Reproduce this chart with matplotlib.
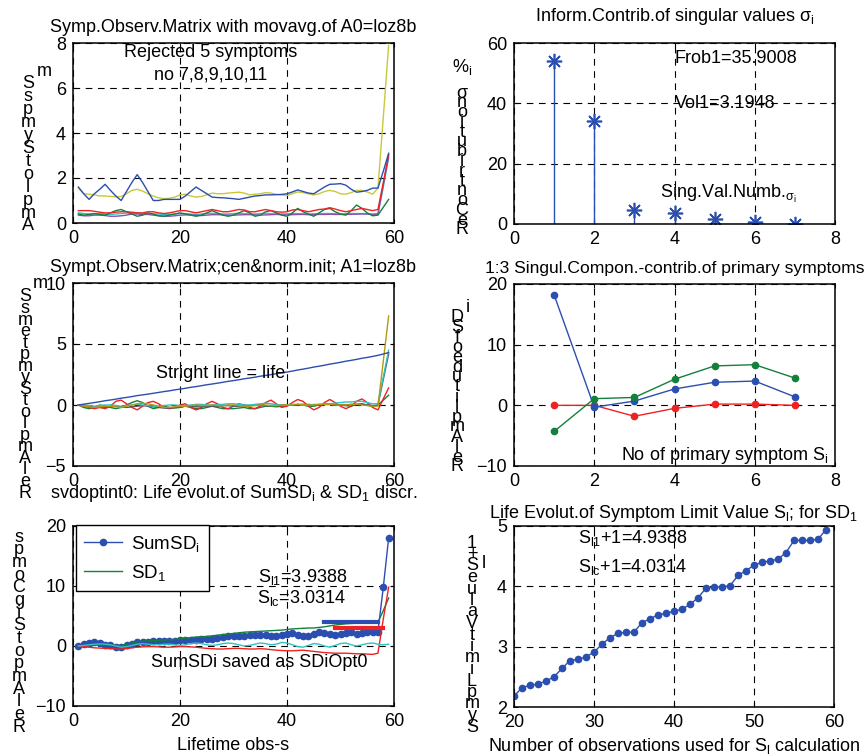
import numpy as np
import matplotlib
matplotlib.use("Agg")
import matplotlib.pyplot as plt

plt.rcParams['font.family'] = ['Liberation Sans', 'DejaVu Sans']
plt.rcParams['mathtext.fontset'] = 'custom'
plt.rcParams['mathtext.rm'] = 'Liberation Sans'
plt.rcParams['mathtext.it'] = 'Liberation Sans'
plt.rcParams['mathtext.default'] = 'regular'

W, H = 865, 756

# ---- symptom observation matrix (moving average), obs 1..59
obs = np.arange(1, 60)
sym_blue = [1.60, 1.30, 1.05, 1.30, 1.50, 1.72, 1.45, 1.20, 1.00, 1.40,
            1.80, 2.15, 1.80, 1.40, 1.00, 1.00, 1.05, 1.05, 1.05, 1.05,
            1.20, 1.40, 1.60, 1.45, 1.30, 1.15, 1.13, 1.12, 1.10, 1.08,
            1.05, 1.10, 1.15, 1.20, 1.22, 1.25, 1.25, 1.26, 1.27, 1.30,
            1.38, 1.47, 1.40, 1.33, 1.30, 1.45, 1.60, 1.72, 1.73, 1.75,
            1.68, 1.50, 1.37, 1.40, 1.45, 1.55, 1.55, 2.30, 3.10]
sym_yellow = [1.55, 1.30, 1.28, 1.25, 1.20, 1.20, 1.18, 1.17, 1.18, 1.30,
              1.45, 1.50, 1.42, 1.30, 1.20, 1.12, 1.08, 1.10, 1.15, 1.25,
              1.28, 1.20, 1.15, 1.18, 1.25, 1.33, 1.30, 1.30, 1.33, 1.35,
              1.37, 1.33, 1.25, 1.28, 1.30, 1.35, 1.33, 1.27, 1.25, 1.22,
              1.30, 1.38, 1.35, 1.30, 1.25, 1.30, 1.40, 1.45, 1.40, 1.30,
              1.28, 1.35, 1.45, 1.45, 1.38, 1.28, 1.55, 4.70, 7.90]
sym_red = [0.55, 0.55, 0.55, 0.52, 0.48, 0.45, 0.45, 0.48, 0.50, 0.50,
           0.48, 0.45, 0.45, 0.50, 0.50, 0.45, 0.42, 0.45, 0.50, 0.55,
           0.55, 0.50, 0.45, 0.50, 0.55, 0.60, 0.55, 0.50, 0.50, 0.55,
           0.60, 0.58, 0.50, 0.50, 0.55, 0.60, 0.55, 0.50, 0.48, 0.50,
           0.58, 0.60, 0.55, 0.50, 0.55, 0.60, 0.62, 0.68, 0.62, 0.55,
           0.50, 0.55, 0.60, 0.65, 0.60, 0.55, 0.60, 1.80, 3.00]
sym_green = [0.40, 0.35, 0.38, 0.42, 0.38, 0.35, 0.45, 0.55, 0.60, 0.50,
             0.40, 0.30, 0.35, 0.45, 0.40, 0.32, 0.30, 0.35, 0.40, 0.45,
             0.40, 0.35, 0.30, 0.35, 0.45, 0.55, 0.45, 0.35, 0.30, 0.35,
             0.45, 0.55, 0.45, 0.30, 0.35, 0.50, 0.55, 0.45, 0.35, 0.30,
             0.45, 0.65, 0.50, 0.40, 0.30, 0.45, 0.60, 0.65, 0.50, 0.40,
             0.35, 0.55, 0.80, 0.65, 0.45, 0.32, 0.35, 0.70, 1.05]
sym_purple = [0.35, 0.32, 0.32, 0.35, 0.35, 0.33, 0.30, 0.30, 0.32, 0.35,
              0.40, 0.40, 0.38, 0.38, 0.35, 0.32, 0.30, 0.30, 0.32, 0.35,
              0.36, 0.36, 0.34, 0.33, 0.35, 0.37, 0.37, 0.36, 0.35, 0.35,
              0.36, 0.37, 0.37, 0.36, 0.35, 0.36, 0.37, 0.38, 0.37, 0.36,
              0.37, 0.38, 0.38, 0.37, 0.37, 0.38, 0.38, 0.39, 0.38, 0.38,
              0.38, 0.39, 0.39, 0.40, 0.40, 0.39, 0.40, 1.70, 3.05]
sym_cyan = [0.45, 0.42, 0.40, 0.40, 0.42, 0.40, 0.38, 0.40, 0.42, 0.44,
            0.45, 0.44, 0.42, 0.40, 0.40, 0.40, 0.38, 0.38, 0.40, 0.42,
            0.42, 0.40, 0.38, 0.40, 0.42, 0.43, 0.42, 0.40, 0.40, 0.42,
            0.43, 0.42, 0.40, 0.40, 0.42, 0.43, 0.42, 0.40, 0.40, 0.41,
            0.42, 0.42, 0.41, 0.40, 0.41, 0.42, 0.42, 0.42, 0.41, 0.40,
            0.41, 0.42, 0.42, 0.42, 0.40, 0.38, 0.40, 1.60, 2.90]

# ---- centred & normalised matrix
cen_life = [0.00, 0.07, 0.13, 0.20, 0.27, 0.35, 0.41, 0.48, 0.56, 0.62,
            0.69, 0.77, 0.83, 0.89, 0.96, 1.03, 1.10, 1.16, 1.24, 1.30,
            1.37, 1.45, 1.51, 1.58, 1.66, 1.72, 1.79, 1.86, 1.94, 2.00,
            2.07, 2.15, 2.21, 2.28, 2.36, 2.42, 2.49, 2.57, 2.63, 2.70,
            2.78, 2.87, 2.94, 3.02, 3.11, 3.18, 3.26, 3.35, 3.42, 3.50,
            3.59, 3.66, 3.74, 3.83, 3.90, 3.98, 4.07, 4.18, 4.30]
cen_red = [0.00, -0.10, -0.20, -0.30, -0.20, -0.30, -0.10, 0.30, 0.40, 0.10,
           -0.20, -0.40, -0.10, 0.20, 0.30, 0.10, -0.20, -0.30, -0.20, 0.00,
           0.10, -0.20, -0.40, -0.20, 0.10, 0.30, 0.10, -0.20, -0.30, -0.10,
           0.10, 0.00, -0.20, -0.30, -0.10, 0.20, 0.40, 0.10, -0.20, -0.10,
           0.20, 0.45, 0.30, -0.10, -0.40, -0.20, 0.20, 0.45, 0.20, -0.10,
           -0.30, -0.10, 0.30, 0.50, 0.20, -0.20, -0.40, 0.50, 1.40]
cen_green = [0.00, -0.20, -0.30, -0.20, 0.00, -0.10, -0.20, -0.30, -0.20, 0.00,
             0.20, 0.35, 0.20, -0.10, -0.30, -0.20, -0.10, -0.20, -0.25, -0.20,
             -0.10, -0.20, -0.30, -0.30, -0.20, -0.10, -0.20, -0.30, -0.30, -0.30,
             -0.25, -0.20, -0.30, -0.30, -0.20, -0.10, -0.10, -0.15, -0.10, -0.05,
             0.00, 0.05, 0.00, -0.10, -0.10, 0.00, 0.05, 0.05, 0.00, 0.00,
             -0.05, -0.10, 0.05, 0.10, 0.00, -0.10, 0.00, 0.40, 0.80]
cen_cyan = [0.00, 0.00, -0.05, -0.10, -0.05, 0.00, 0.00, -0.05, -0.10, -0.05,
            0.00, 0.05, 0.00, -0.05, -0.10, -0.10, -0.05, 0.00, 0.00, -0.05,
            -0.05, 0.00, 0.05, 0.05, 0.00, 0.00, 0.05, 0.05, 0.10, 0.10,
            0.05, 0.00, 0.00, 0.05, 0.10, 0.15, 0.10, 0.05, 0.00, 0.00,
            0.05, 0.05, 0.00, 0.00, 0.05, 0.05, 0.10, 0.10, 0.15, 0.20,
            0.25, 0.25, 0.30, 0.30, 0.20, 0.10, 0.10, 2.30, 4.50]
cen_olive = [0.00, -0.10, -0.15, -0.20, -0.15, -0.10, -0.10, -0.15, -0.20, -0.10,
             0.00, 0.10, 0.15, 0.10, 0.00, -0.10, -0.20, -0.20, -0.15, -0.10,
             -0.10, -0.05, 0.00, -0.05, -0.05, 0.00, -0.05, -0.05, 0.00, 0.00,
             -0.05, -0.10, -0.10, -0.05, 0.00, 0.00, -0.05, -0.05, 0.00, 0.00,
             0.00, 0.05, 0.05, 0.00, 0.00, 0.05, 0.05, 0.05, 0.00, 0.00,
             0.00, 0.05, 0.05, 0.00, -0.05, -0.10, -0.10, 3.60, 7.30]
cen_gray = [0.00, -0.05, -0.10, -0.15, -0.20, -0.20, -0.15, -0.10, -0.15, -0.20,
            -0.15, -0.10, -0.05, -0.10, -0.15, -0.20, -0.25, -0.25, -0.20, -0.15,
            -0.10, -0.10, -0.15, -0.15, -0.10, -0.10, -0.10, -0.05, -0.05, -0.10,
            -0.10, -0.05, -0.05, 0.00, 0.00, -0.05, -0.05, 0.00, 0.00, 0.00,
            0.00, 0.00, 0.05, 0.05, 0.00, 0.00, 0.05, 0.05, 0.05, 0.00,
            0.00, 0.05, 0.05, 0.05, 0.00, -0.05, 0.00, 2.10, 4.20]

# ---- singular values contribution [%]
sv_num = [1, 2, 3, 4, 5, 6, 7]
sv_contrib = [54.0, 34.3, 4.8, 3.5, 1.7, 0.8, 0.0]
frob1 = 35.9008
vol1 = 3.1948

# ---- singular components vs primary symptoms
comp_blue = [18.2, -0.3, 0.7, 2.7, 3.8, 4.0, 1.4]
comp_green = [-4.3, 1.1, 1.3, 4.3, 6.5, 6.7, 4.5]
comp_red = [0.0, 0.0, -1.8, -0.5, 0.2, 0.2, 0.0]

# ---- SumSD_i and SD_1 life evolution
sumsd = [0.0, 0.3, 0.5, 0.6, 0.5, 0.2, 0.1, -0.1, -0.2, 0.1,
         0.4, 0.6, 0.7, 0.7, 0.8, 0.8, 0.8, 0.9, 0.9, 1.0,
         1.0, 1.0, 1.0, 1.1, 1.1, 1.2, 1.3, 1.5, 1.6, 1.6,
         1.7, 1.7, 1.8, 1.9, 1.9, 1.8, 1.7, 1.7, 1.9, 2.0,
         2.1, 1.9, 1.6, 1.6, 2.0, 2.3, 2.2, 2.0, 1.9, 2.0,
         2.1, 2.3, 2.0, 2.1, 2.4, 2.4, 2.4, 9.8, 18.0]
sd1 = [0.00, 0.05, 0.10, 0.15, 0.20, 0.20, 0.15, 0.10, 0.05, 0.30,
       0.50, 0.70, 0.80, 0.85, 0.90, 0.95, 1.00, 1.05, 1.10, 1.20,
       1.30, 1.40, 1.50, 1.55, 1.60, 1.70, 1.80, 1.90, 2.00, 2.10,
       2.20, 2.30, 2.35, 2.40, 2.45, 2.50, 2.55, 2.60, 2.65, 2.75,
       2.85, 2.90, 2.95, 3.00, 3.00, 3.10, 3.20, 3.35, 3.50, 3.60,
       3.70, 3.75, 3.80, 3.85, 3.90, 3.95, 4.00, 5.90, 8.00]
sd2 = [0.00, -0.10, -0.20, -0.30, -0.35, -0.40, -0.45, -0.50, -0.50, -0.45,
       -0.30, -0.20, -0.15, -0.10, -0.10, -0.15, -0.20, -0.20, -0.15, -0.10,
       -0.10, -0.15, -0.20, -0.30, -0.40, -0.45, -0.50, -0.50, -0.45, -0.40,
       -0.40, -0.45, -0.50, -0.50, -0.45, -0.50, -0.60, -0.70, -0.75, -0.80,
       -0.80, -0.75, -0.70, -0.80, -0.90, -1.00, -1.10, -1.15, -1.20, -1.20,
       -1.20, -1.25, -1.30, -1.30, -1.35, -1.40, -1.20, 4.50, 9.80]
sd3 = [0.00, 0.10, 0.20, 0.30, 0.35, 0.30, 0.20, 0.00, -0.20, -0.10,
       0.10, 0.30, 0.40, 0.30, 0.20, 0.20, 0.30, 0.30, 0.20, 0.10,
       0.20, 0.40, 0.50, 0.40, 0.20, 0.10, 0.20, 0.40, 0.50, 0.40,
       0.20, 0.00, 0.10, 0.30, 0.50, 0.40, 0.20, 0.30, 0.60, 0.50,
       0.20, -0.10, -0.20, 0.10, 0.40, 0.30, 0.00, -0.20, 0.10, 0.40,
       0.50, 0.20, 0.00, 0.20, 0.40, 0.50, 0.30, 0.20, 0.30]
s_l1 = 3.9388
s_lc = 3.0314

# ---- symptom limit value vs number of observations
n_obs = np.arange(20, 60)
s_limit = [2.18, 2.32, 2.36, 2.38, 2.43, 2.50, 2.64, 2.77, 2.79, 2.83,
           2.91, 3.04, 3.15, 3.22, 3.24, 3.24, 3.40, 3.46, 3.53, 3.55,
           3.59, 3.62, 3.70, 3.81, 3.97, 3.99, 3.99, 4.01, 4.18, 4.26,
           4.35, 4.40, 4.42, 4.45, 4.56, 4.76, 4.76, 4.76, 4.78, 4.94]

BLUE = '#2b4fb0'
GREEN = '#13803c'
RED = '#ee2222'
YELLOW = '#c9c83a'
CYAN = '#2cc4c4'
PURPLE = '#8a4fb0'
OLIVE = '#b59a10'
GRAY = '#555566'

fig = plt.figure(figsize=(W / 100, H / 100), dpi=100)


def make_ax(x0, y0, x1, y1):
    ax = fig.add_axes([x0 / W, 1 - y1 / H, (x1 - x0) / W, (y1 - y0) / H])
    ax.grid(True, color='black', linestyle=(0, (6, 5)), linewidth=0.8)
    ax.tick_params(direction='in', length=3, labelsize=13, pad=5,
                   top=True, right=True)
    for s in ax.spines.values():
        s.set_linewidth(1.1)
    return ax


def stacked(x, y0, y1, chars, size=13):
    n = len(chars)
    for k, c in enumerate(chars):
        y = y0 + (y1 - y0) * k / (n - 1)
        fig.text(x / W, 1 - y / H, c, ha='center', va='center', fontsize=size)


def put(x, y, s, size=13):
    fig.text(x / W, 1 - y / H, s, ha='center', va='center', fontsize=size)


# 1: symptom observation matrix
ax1 = make_ax(73, 43, 394, 223)
for ys, c in [(sym_cyan, CYAN), (sym_purple, PURPLE), (sym_green, GREEN),
              (sym_red, RED), (sym_yellow, YELLOW), (sym_blue, BLUE)]:
    ax1.plot(obs, ys, color=c, lw=1)
ax1.set_xlim(0, 60)
ax1.set_ylim(0, 8)
ax1.set_xticks([0, 20, 40, 60])
ax1.set_yticks([0, 2, 4, 6, 8])
ax1.set_title('Symp.Observ.Matrix with movavg.of A0=loz8b', fontsize=13, pad=8)
ax1.text(25.8, 7.6, 'Rejected 5 symptoms', ha='center', va='center', fontsize=13)
ax1.text(25.8, 6.6, 'no 7,8,9,10,11', ha='center', va='center', fontsize=13)
stacked(28, 84, 226, list('SspmyStolpmA'))
put(44, 72, 'm')

# 2: information contribution of singular values
ax2 = make_ax(514, 43, 835, 224)
ml, sl, bl = ax2.stem(sv_num, sv_contrib, basefmt=' ')
plt.setp(sl, color=BLUE, linewidth=1)
plt.setp(ml, color=BLUE, marker=(8, 2, 0), markersize=11, markeredgewidth=1.2)
ax2.set_xlim(0, 8)
ax2.set_ylim(0, 60)
ax2.set_xticks([0, 2, 4, 6, 8])
ax2.set_yticks([0, 20, 40, 60])
ax2.set_title('Inform.Contrib.of singular values $\\sigma_i$', fontsize=13, pad=16)
ax2.text(4.0, 54.7, 'Frob1=%.4f' % frob1, ha='left', va='center', fontsize=13)
ax2.text(4.0, 40.1, 'Vol1=%.4f' % vol1, ha='left', va='center', fontsize=13)
ax2.text(3.64, 9.9, 'Sing.Val.Numb.$_{\\sigma_i}$', ha='left', va='center', fontsize=13)
put(462, 67, '%$_i$')
stacked(462, 93, 230, list('σnoitubirtnoCeR'))

# 3: centred and normalised matrix
ax3 = make_ax(73, 283, 394, 466)
for ys, c in [(cen_green, GREEN), (cen_red, RED), (cen_gray, GRAY),
              (cen_cyan, CYAN), (cen_olive, OLIVE), (cen_life, BLUE)]:
    ax3.plot(obs, ys, color=c, lw=1)
ax3.set_xlim(0, 60)
ax3.set_ylim(-5, 10)
ax3.set_xticks([0, 20, 40, 60])
ax3.set_yticks([-5, 0, 5, 10])
ax3.set_title('Sympt.Observ.Matrix;cen&norm.init; A1=loz8b', fontsize=13, pad=8)
ax3.text(15.5, 2.6, 'Stright line = life', ha='left', va='center', fontsize=13)
stacked(25, 297, 493, list('SsmetpmyStolpmAleR'))
put(40, 283, 'm')

# 4: singular components of primary symptoms
ax4 = make_ax(514, 284, 835, 466)
for ys, c in [(comp_red, RED), (comp_blue, BLUE), (comp_green, GREEN)]:
    ax4.plot(sv_num, ys, color=c, lw=1, marker='o', markersize=4.5)
ax4.set_xlim(0, 8)
ax4.set_ylim(-10, 20)
ax4.set_xticks([0, 2, 4, 6, 8])
ax4.set_yticks([-10, 0, 10, 20])
ax4.set_title('1:3 Singul.Compon.-contrib.of primary symptoms', fontsize=12.6, pad=8)
ax4.text(2.67, -8.35, 'No of primary symptom S$_i$', ha='left', va='center', fontsize=13)
stacked(457, 317, 467, list('DSfoedutilpmAleR'))
put(468, 307, 'i')

# 5: life evolution of SumSD_i and SD_1
ax5 = make_ax(73, 526, 394, 706)
ax5.plot(obs, sumsd, color=BLUE, lw=1, marker='o', markersize=4.5, label='SumSD$_i$')
ax5.plot(obs, sd1, color=GREEN, lw=1, label='SD$_1$')
ax5.plot(obs, sd2, color=RED, lw=1)
ax5.plot(obs, sd3, color=CYAN, lw=1)
ax5.plot([47, 57], [s_l1, s_l1], color=BLUE, lw=3)
ax5.plot([49, 58], [s_lc, s_lc], color=RED, lw=3)
ax5.set_xlim(0, 60)
ax5.set_ylim(-10, 20)
ax5.set_xticks([0, 20, 40, 60])
ax5.set_yticks([-10, 0, 10, 20])
ax5.set_title('svdoptint0: Life evolut.of SumSD$_i$ & SD$_1$ discr.', fontsize=13, pad=20)
ax5.set_xlabel('Lifetime obs-s', fontsize=13, labelpad=5)
ax5.text(34.6, 11.5, 'S$_{l1}$=%.4f' % s_l1, ha='left', va='center', fontsize=13)
ax5.text(34.4, 8.0, 'S$_{lc}$=%.4f' % s_lc, ha='left', va='center', fontsize=13)
ax5.text(14.5, -2.7, 'SumSDi saved as SDiOpt0', ha='left', va='center', fontsize=13)
leg = ax5.legend(loc='upper left', bbox_to_anchor=(0.009, 1.005), borderaxespad=0,
                 fontsize=13.5, fancybox=False, framealpha=1, handlelength=2.0,
                 handletextpad=0.5, borderpad=0.45, labelspacing=0.5)
leg.get_frame().set_edgecolor('black')
leg.get_frame().set_linewidth(1.0)
stacked(19, 537, 727, list('spmoCgiStopmAleR'))

# 6: symptom limit value
ax6 = make_ax(514, 526, 834, 707)
ax6.plot(n_obs, s_limit, color=BLUE, lw=1, marker='o', markersize=4.5)
ax6.set_xlim(20, 60)
ax6.set_ylim(2, 5)
ax6.set_xticks([20, 30, 40, 50, 60])
ax6.set_yticks([2, 3, 4, 5])
ax6.set_title('Life Evolut.of Symptom Limit Value S$_l$; for SD$_1$', fontsize=13, pad=6)
ax6.set_xlabel('Number of observations used for S$_l$ calculation', fontsize=13, labelpad=4)
ax6.text(28, 4.8, 'S$_{l1}$+1=%.4f' % (s_l1 + 1), ha='left', va='center', fontsize=13)
ax6.text(28, 4.32, 'S$_{lc}$+1=%.4f' % (s_lc + 1), ha='left', va='center', fontsize=13)
stacked(472, 543, 727, list('1+SeulaVtimiLpmyS'))
put(484, 563, 'l')

fig.savefig('out.png', dpi=100)
